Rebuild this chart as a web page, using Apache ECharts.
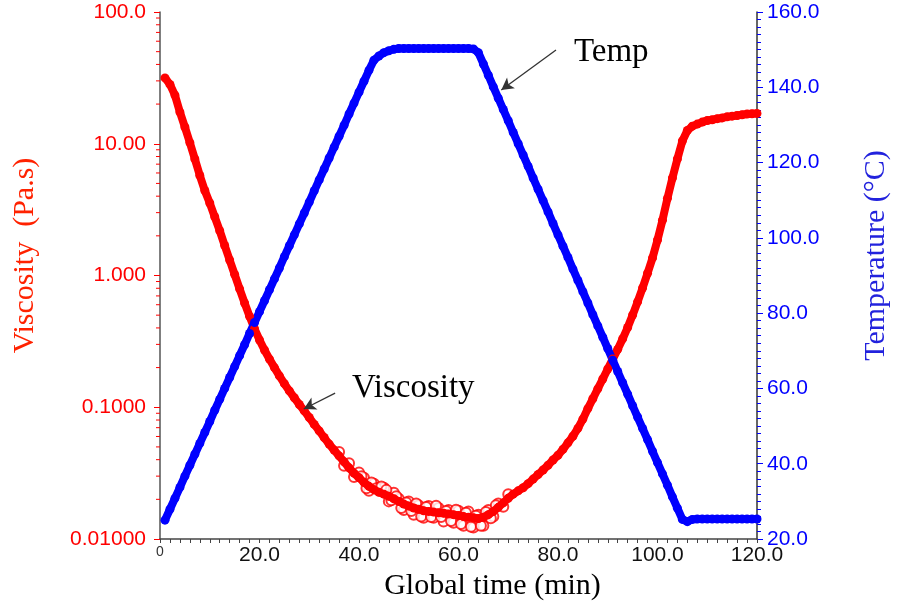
<!DOCTYPE html>
<html>
<head>
<meta charset="utf-8">
<script src="https://cdn.jsdelivr.net/npm/echarts@6/dist/echarts.min.js"></script>
<style>
  html, body { margin: 0; padding: 0; background: #fff; }
  #chart { width: 899px; height: 606px; }
</style>
</head>
<body>
<div id="chart"></div>
<script>
// Sampling times (min)
const timeMin = [
  1, 2, 3, 4, 5, 6, 7, 8, 9, 10, 11, 12, 13, 14, 15, 16, 17, 18, 19, 20,
  21, 22, 23, 24, 25, 26, 27, 28, 29, 30, 31, 32, 33, 34, 35, 36, 37, 38, 39, 40,
  41, 42, 43, 44, 45, 46, 47, 48, 49, 50, 51, 52, 53, 54, 55, 56, 57, 58, 59, 60,
  61, 62, 63, 64, 65, 66, 67, 68, 69, 70, 71, 72, 73, 74, 75, 76, 77, 78, 79, 80,
  81, 82, 83, 84, 85, 86, 87, 88, 89, 90, 91, 92, 93, 94, 95, 96, 97, 98, 99, 100,
  101, 102, 103, 104, 105, 106, 107, 108, 109, 110, 111, 112, 113, 114, 115, 116, 117, 118, 119, 120
];

// Viscosity (Pa.s)
const viscosity = [
  31.6, 28.2, 23.4, 17.4, 13.4, 10.2, 7.67, 5.75, 4.42, 3.55,
  2.79, 2.19, 1.69, 1.31, 1.02, 0.792, 0.619, 0.490, 0.394, 0.324,
  0.272, 0.232, 0.200, 0.173, 0.151, 0.133, 0.118, 0.105, 0.0938, 0.0836,
  0.0741, 0.0661, 0.0589, 0.0525, 0.0473, 0.0427, 0.0385, 0.0347, 0.0316, 0.0292,
  0.0269, 0.0251, 0.0237, 0.0226, 0.0219, 0.0211, 0.0202, 0.0193, 0.0184, 0.0178,
  0.0172, 0.0168, 0.0164, 0.0162, 0.0160, 0.0158, 0.0157, 0.0155, 0.0153, 0.0151,
  0.0148, 0.0146, 0.0145, 0.0143, 0.0146, 0.0153, 0.0162, 0.0174, 0.0188, 0.0204,
  0.0219, 0.0232, 0.0245, 0.0263, 0.0285, 0.0309, 0.0334, 0.0363, 0.0398, 0.0432,
  0.0479, 0.0537, 0.0603, 0.0692, 0.0813, 0.0977, 0.116, 0.138, 0.164, 0.195,
  0.232, 0.275, 0.331, 0.403, 0.501, 0.631, 0.804, 1.04, 1.36, 1.86,
  2.63, 3.85, 5.50, 7.67, 10.5, 12.6, 13.6, 14.1, 14.6, 15.0,
  15.2, 15.5, 15.7, 16.0, 16.2, 16.4, 16.6, 16.8, 16.9, 17.0
];

// Scattered viscosity readings around the minimum
const scatterTime = [
  36, 37, 38, 39, 40, 41, 42, 43, 44, 45, 46, 47, 48, 49, 50, 51, 52,
  53, 54, 55, 56, 57, 58, 59, 60, 61, 62, 63, 64, 65, 66, 67, 68, 69, 70,
  40.5, 41.5, 42.5, 43.5, 44.5, 45.5, 46.5, 47.5, 48.5, 49.5, 50.5, 51.5, 52.5, 53.5,
  54.5, 55.5, 56.5, 57.5, 58.5, 59.5, 60.5, 61.5, 62.5, 63.5, 64.5, 65.5, 66.5, 67.5
];
const scatterViscosity = [
  0.0457, 0.0359, 0.0376, 0.0295, 0.0320, 0.0292, 0.0232, 0.0263, 0.0243, 0.0245,
  0.0193, 0.0224, 0.0202, 0.0166, 0.0193, 0.0153, 0.0180, 0.0145, 0.0178, 0.0145,
  0.0172, 0.0136, 0.0166, 0.0133, 0.0164, 0.0126, 0.0162, 0.0122, 0.0153, 0.0126,
  0.0166, 0.0148, 0.0186, 0.0176, 0.0219,
  0.0300, 0.0243, 0.0268, 0.0243, 0.0250, 0.0236, 0.0197, 0.0211, 0.0172, 0.0189,
  0.0163, 0.0186, 0.0148, 0.0175, 0.0147, 0.0179, 0.0147, 0.0163, 0.0137, 0.0167,
  0.0130, 0.0158, 0.0124, 0.0150, 0.0126, 0.0160, 0.0144, 0.0180
];

// Temperature (°C)
const temperature = [
  25.0, 27.9, 30.8, 33.7, 36.7, 39.6, 42.5, 45.4, 48.3, 51.2,
  54.2, 57.1, 60.0, 62.9, 65.8, 68.7, 71.6, 74.6, 77.5, 80.4,
  83.3, 86.2, 89.1, 92.0, 95.0, 97.9, 100.8, 103.7, 106.6, 109.5,
  112.5, 115.4, 118.3, 121.2, 124.1, 127.0, 129.9, 132.9, 135.8, 138.7,
  141.6, 144.5, 147.2, 148.3, 149.2, 149.7, 150.1, 150.3, 150.3, 150.3,
  150.3, 150.3, 150.3, 150.3, 150.3, 150.3, 150.3, 150.3, 150.3, 150.3,
  150.3, 150.3, 150.2, 149.2, 146.2, 143.2, 140.1, 137.1, 134.1, 131.1,
  128.0, 125.0, 122.0, 119.0, 115.9, 112.9, 109.9, 106.9, 103.8, 100.8,
  97.8, 94.8, 91.7, 88.7, 85.7, 82.7, 79.6, 76.6, 73.6, 70.6,
  67.5, 64.5, 61.5, 58.5, 55.4, 52.4, 49.4, 46.4, 43.3, 40.3,
  37.3, 34.3, 31.2, 28.2, 25.2, 24.6, 25.2, 25.3, 25.3, 25.3,
  25.3, 25.3, 25.3, 25.3, 25.3, 25.3, 25.3, 25.3, 25.3, 25.3
];

// Log-axis minor tick positions (2..9 in each decade)
const viscMinorTicks = [
  0.02, 0.03, 0.04, 0.05, 0.06, 0.07, 0.08, 0.09,
  0.2, 0.3, 0.4, 0.5, 0.6, 0.7, 0.8, 0.9,
  2, 3, 4, 5, 6, 7, 8, 9,
  20, 30, 40, 50, 60, 70, 80, 90
];

const RED = '#ff0000';
const BLUE = '#0000ff';
const SANS = '"Liberation Sans", Arial, sans-serif';
const SERIF = '"Liberation Serif", "Times New Roman", serif';

const pair = (xs, ys) => xs.map((x, i) => [x, ys[i]]);

const chart = echarts.init(document.getElementById('chart'), null, { renderer: 'canvas' });

chart.setOption({
  backgroundColor: '#fff',
  animation: false,
  grid: { left: 160, right: 136, top: 12, bottom: 67, containLabel: false },
  xAxis: {
    type: 'value',
    min: 0, max: 120, interval: 20,
    name: 'Global time (min)',
    nameLocation: 'middle',
    nameGap: 32,
    nameTextStyle: { fontFamily: SERIF, fontSize: 30, color: '#000', padding: [0, 0, 0, 68] },
    axisLine: { show: true, onZero: false, lineStyle: { color: '#444', width: 1.5 } },
    axisTick: { show: true, length: 4, lineStyle: { color: '#444' } },
    minorTick: { show: true, splitNumber: 10, length: 4, lineStyle: { color: '#444' } },
    splitLine: { show: false },
    axisLabel: {
      margin: 6,
      fontFamily: SANS, fontSize: 21, color: '#111',
      formatter: v => v === 0 ? '{z|0}' : v.toFixed(1),
      rich: { z: { fontFamily: SANS, fontSize: 14, color: '#333' } }
    }
  },
  yAxis: [
    {
      type: 'log', logBase: 10,
      min: 0.01, max: 100,
      position: 'left',
      name: 'Viscosity  (Pa.s)',
      nameLocation: 'middle',
      nameRotate: 90,
      nameGap: 120,
      nameTextStyle: { fontFamily: SERIF, fontSize: 30, color: '#ff2200', padding: [0, 0, 0, 40] },
      axisLine: { show: true, lineStyle: { color: '#555', width: 1.5 } },
      axisTick: { show: true, length: 6, lineStyle: { color: RED } },
      splitLine: { show: false },
      axisLabel: {
        margin: 14,
        fontFamily: SANS, fontSize: 21, color: RED,
        formatter: v => Number(v).toPrecision(4)
      }
    },
    {
      type: 'value',
      min: 20, max: 160, interval: 20,
      position: 'right',
      name: 'Temperature (°C)',
      nameLocation: 'middle',
      nameRotate: 90,
      nameGap: 104,
      nameTextStyle: { fontFamily: SERIF, fontSize: 30, color: '#2222dd', padding: [0, 0, 0, 40] },
      axisLine: { show: true, lineStyle: { color: '#333', width: 1.5 } },
      axisTick: { show: true, length: 6, lineStyle: { color: BLUE } },
      minorTick: { show: true, splitNumber: 10, length: 4, lineStyle: { color: BLUE } },
      splitLine: { show: false },
      axisLabel: {
        margin: 10,
        fontFamily: SANS, fontSize: 21, color: BLUE,
        formatter: v => v.toFixed(1)
      }
    }
  ],
  series: [
    {
      // minor ticks of the logarithmic viscosity axis
      type: 'custom',
      yAxisIndex: 0,
      silent: true,
      clip: false,
      data: viscMinorTicks.map(v => [0, v]),
      renderItem: (params, api) => {
        const p = api.coord([0, api.value(1)]);
        return {
          type: 'line',
          shape: { x1: p[0] - 4, y1: p[1], x2: p[0], y2: p[1] },
          style: { stroke: RED, lineWidth: 1 }
        };
      }
    },
    {
      name: 'Viscosity',
      type: 'line',
      yAxisIndex: 0,
      data: pair(timeMin, viscosity),
      symbol: 'circle',
      symbolSize: 9,
      showAllSymbol: true,
      itemStyle: { color: RED },
      lineStyle: { color: RED, width: 8 },
      markLine: {
        silent: true,
        symbol: ['none', 'arrow'],
        symbolSize: [10, 12],
        label: { show: false },
        lineStyle: { color: '#333', width: 1.3, type: 'solid' },
        data: [[{ coord: [35.2, 0.128] }, { coord: [28.9, 0.097] }]]
      },
      markPoint: {
        silent: true,
        symbol: 'circle',
        symbolSize: 1,
        itemStyle: { color: 'rgba(0,0,0,0)' },
        label: {
          show: true, position: 'inside',
          fontFamily: SERIF, fontSize: 33, color: '#000',
          formatter: 'Viscosity'
        },
        data: [{ coord: [50.9, 0.140] }]
      }
    },
    {
      name: 'Viscosity scatter',
      type: 'scatter',
      yAxisIndex: 0,
      data: pair(scatterTime, scatterViscosity),
      symbol: 'emptyCircle',
      symbolSize: 10,
      itemStyle: { color: RED, borderWidth: 1.6 }
    },
    {
      name: 'Temp',
      type: 'line',
      yAxisIndex: 1,
      data: pair(timeMin, temperature),
      symbol: 'circle',
      symbolSize: 9,
      showAllSymbol: true,
      itemStyle: { color: BLUE },
      lineStyle: { color: BLUE, width: 8 },
      markLine: {
        silent: true,
        symbol: ['none', 'arrow'],
        symbolSize: [10, 12],
        label: { show: false },
        lineStyle: { color: '#333', width: 1.3, type: 'solid' },
        data: [[{ coord: [79.6, 149.9] }, { coord: [68.6, 139.3] }]]
      },
      markPoint: {
        silent: true,
        symbol: 'circle',
        symbolSize: 1,
        itemStyle: { color: 'rgba(0,0,0,0)' },
        label: {
          show: true, position: 'inside',
          fontFamily: SERIF, fontSize: 33, color: '#000',
          formatter: 'Temp'
        },
        data: [{ coord: [90.7, 149.4] }]
      }
    }
  ]
});
</script>
</body>
</html>
